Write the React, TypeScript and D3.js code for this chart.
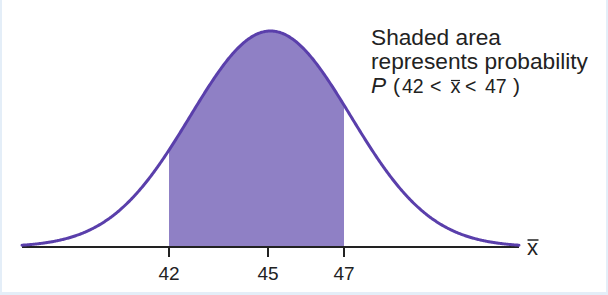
import React from "react";
import * as d3 from "d3";

const tickValues = [42, 45, 47];
const tickLabels = ["42", "45", "47"];
const shadeLow = 42;
const shadeHigh = 47;
const zExtent = [-3.1, 3.1];
const titleLines = ["Shaded area", "represents probability"];

const W = 608;
const H = 295;
const axisY = 247;
const peakY = 31;

const pdf = (z: number) => Math.exp(-0.5 * z * z) / Math.sqrt(2 * Math.PI);

export default function App() {
  const xScale = d3.scaleLinear().domain(tickValues).range([169, 268, 344]);
  const zScale = d3.scaleLinear().domain(zExtent).range([22, 519]);
  const yScale = d3.scaleLinear().domain([0, pdf(0)]).range([axisY, peakY]);

  const zs = d3.range(zExtent[0], zExtent[1] + 1e-9, 0.01);
  const line = d3
    .line<number>()
    .x((z) => zScale(z))
    .y((z) => yScale(pdf(z)));

  const zLo = zScale.invert(xScale(shadeLow));
  const zHi = zScale.invert(xScale(shadeHigh));
  const shadeZs = [zLo, ...zs.filter((z) => z > zLo && z < zHi), zHi];
  const area = d3
    .area<number>()
    .x((z) => zScale(z))
    .y0(axisY)
    .y1((z) => yScale(pdf(z)));

  const font = "'Liberation Sans', Arial, sans-serif";
  const ink = "#222";

  return (
    <svg
      width={W}
      height={H}
      style={{ position: "fixed", left: 0, top: 0, display: "block" }}
      fontFamily={font}
    >
      <rect x={0} y={0} width={W} height={H} fill="#e4eef8" />
      <rect x={2} y={0} width={604} height={292} fill="#ffffff" />
      <path d={area(shadeZs) || ""} fill="#8f80c5" />
      <line x1={zScale(zExtent[0])} x2={zScale(zExtent[1])} y1={axisY} y2={axisY} stroke={ink} strokeWidth={2} />
      {tickValues.map((v, i) => (
        <g key={v}>
          <line x1={xScale(v)} x2={xScale(v)} y1={axisY} y2={axisY + 10} stroke={ink} strokeWidth={2} />
          <text x={xScale(v)} y={280} textAnchor="middle" fontSize={19} fill={ink}>
            {tickLabels[i]}
          </text>
        </g>
      ))}
      <path d={line(zs) || ""} fill="none" stroke="#5a3fab" strokeWidth={3} strokeLinecap="round" />
      <text x={527} y={255} fontSize={22} fill={ink}>
        x
      </text>
      <line x1={527.5} x2={538.5} y1={240} y2={240} stroke={ink} strokeWidth={1.5} />
      {titleLines.map((t, i) => (
        <text key={t} x={371} y={45 + i * 24} fontSize={22.7} fill={ink}>
          {t}
        </text>
      ))}
      <text y={93} fill={ink}>
        <tspan x={371} fontSize={22.7} fontStyle="italic">P</tspan>
        <tspan x={393} fontSize={21}>(</tspan>
        <tspan x={402} fontSize={19.5}>42</tspan>
        <tspan x={430} fontSize={19.5}>&lt;</tspan>
        <tspan x={450.5} fontSize={20}>x</tspan>
        <tspan x={465} fontSize={19.5}>&lt;</tspan>
        <tspan x={485} fontSize={19.5}>47</tspan>
        <tspan x={513} fontSize={21}>)</tspan>
      </text>
      <line x1={451} x2={460} y1={80.5} y2={80.5} stroke={ink} strokeWidth={1.2} />
    </svg>
  );
}
